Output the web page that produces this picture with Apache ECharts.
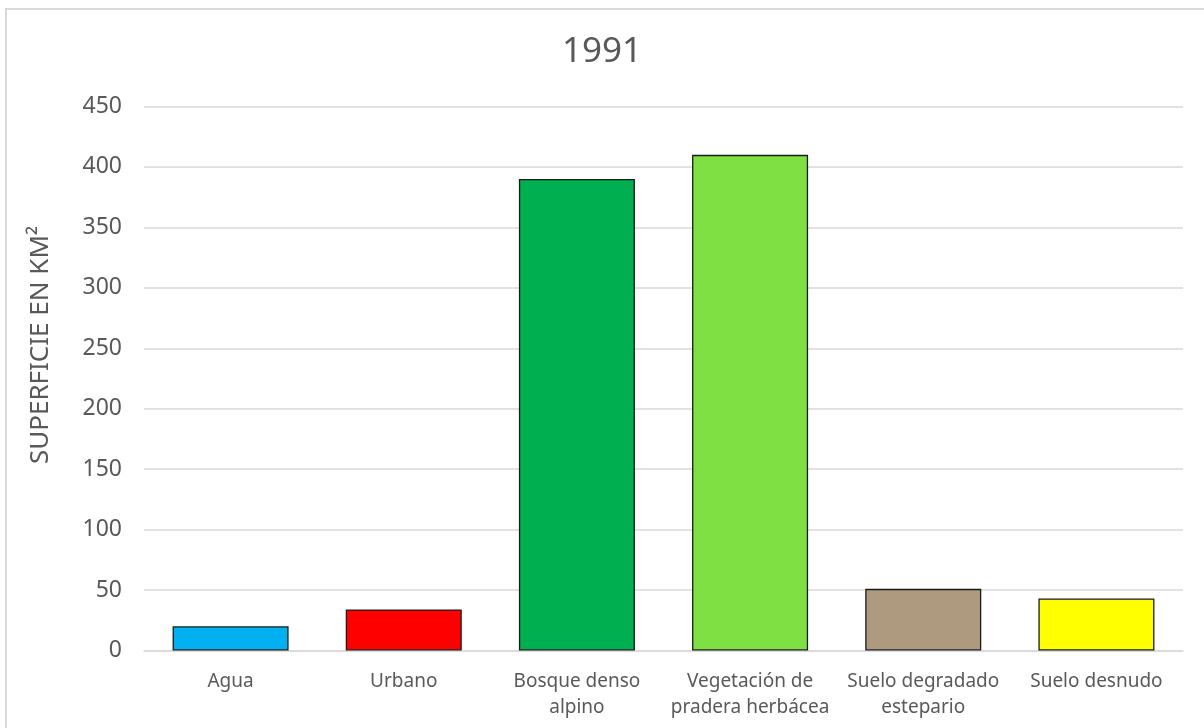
<!DOCTYPE html>
<html>
<head>
<meta charset="utf-8">
<title>1991</title>
<script src="https://cdn.jsdelivr.net/npm/echarts@6/dist/echarts.min.js"></script>
<style>
  html, body { margin: 0; padding: 0; background: #ffffff; }
  #chart { width: 1204px; height: 728px; }
</style>
</head>
<body>
<div id="chart"></div>
<script>
// Land cover surface, 1991 (km²)
const categories = [
  'Agua',
  'Urbano',
  'Bosque denso\nalpino',
  'Vegetación de\npradera herbácea',
  'Suelo degradado\nestepario',
  'Suelo desnudo'
];
const values = [20, 34, 390, 410, 51, 43];
const barColors = ['#00b0f0', '#ff0000', '#00b050', '#7ee043', '#ae9a7f', '#ffff00'];

const titleText = '1991';
const yAxisTitle = 'SUPERFICIE EN KM²';

const FONT = '"Noto Sans", "DejaVu Sans", sans-serif';
const TEXT_COLOR = '#595959';

const chart = echarts.init(document.getElementById('chart'), null, { renderer: 'canvas' });

chart.setOption({
  backgroundColor: '#ffffff',
  animation: false,
  title: {
    text: titleText,
    left: 'center',
    top: 30,
    textStyle: { fontFamily: FONT, fontSize: 35, fontWeight: 'normal', color: TEXT_COLOR }
  },
  grid: { left: 144, right: 21, top: 106.5, bottom: 77.5, containLabel: false },
  xAxis: {
    type: 'category',
    data: categories,
    axisLine: { show: true, lineStyle: { color: '#d9d9d9', width: 1.5 } },
    axisTick: { show: false },
    axisLabel: {
      fontFamily: FONT, fontSize: 19, color: TEXT_COLOR,
      margin: 18, lineHeight: 26, interval: 0
    }
  },
  yAxis: {
    type: 'value',
    min: 0,
    max: 450,
    interval: 50,
    axisLine: { show: false },
    axisTick: { show: false },
    splitLine: { lineStyle: { color: '#d9d9d9', width: 1.5 } },
    axisLabel: { fontFamily: FONT, fontSize: 23, color: TEXT_COLOR, margin: 22 }
  },
  series: [{
    type: 'bar',
    data: values.map((v, i) => ({
      value: v,
      itemStyle: { color: barColors[i] }
    })),
    barCategoryGap: '33%',
    itemStyle: { borderColor: '#1a1a1a', borderWidth: 1.3 }
  }],
  graphic: [
    {
      type: 'rect',
      silent: true,
      shape: { x: 6, y: 9, width: 1400, height: 900 },
      style: { fill: null, stroke: '#d9d9d9', lineWidth: 2 }
    },
    {
      type: 'text',
      x: 41,
      y: 345,
      rotation: Math.PI / 2,
      style: {
        text: yAxisTitle,
        align: 'center',
        verticalAlign: 'middle',
        fontFamily: FONT,
        fontSize: 26,
        fill: TEXT_COLOR
      }
    }
  ]
});
</script>
</body>
</html>
